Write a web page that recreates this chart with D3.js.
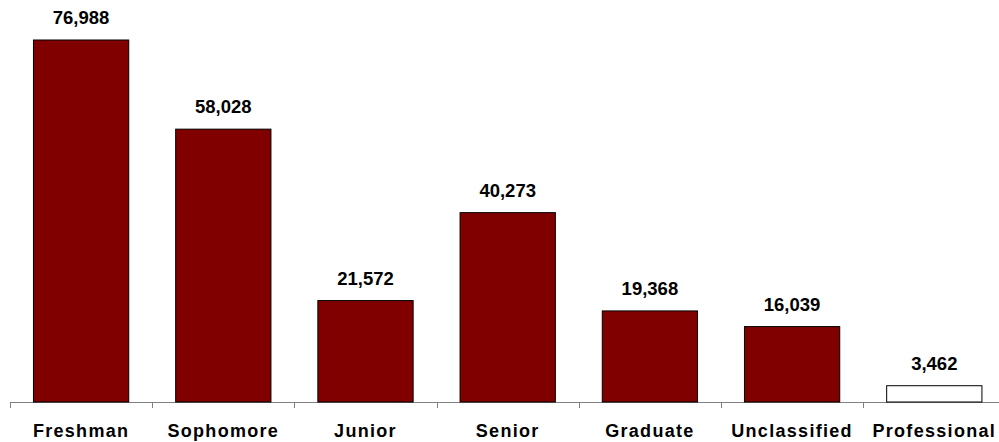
<!DOCTYPE html>
<html><head><meta charset="utf-8">
<script src="https://cdn.jsdelivr.net/npm/d3@7"></script>
<style>body{margin:0;background:#fff;}svg{display:block;}</style>
</head><body>
<svg id="c" width="999" height="442"></svg>
<script>
const categories = ["Freshman","Sophomore","Junior","Senior","Graduate","Unclassified","Professional"];
const values = [76988,58028,21572,40273,19368,16039,3462];
const fills = ["#800000","#800000","#800000","#800000","#800000","#800000","#ffffff"];

const svg = d3.select("#c");
const baseY = 402;
const x = d3.scaleBand().domain(categories).range([10, 10 + 7*142.2]).paddingInner(0.33).paddingOuter(0.165);
const y = d3.scaleLinear().domain([0, 76988]).range([baseY, 40]);

svg.append("line").attr("x1",10).attr("x2",999).attr("y1",baseY+0.5).attr("y2",baseY+0.5)
  .attr("stroke","#808080").attr("stroke-width",1);
const ticks = d3.range(7).map(i => 10 + i*142.2);
svg.selectAll("line.tick").data(ticks).enter().append("line")
  .attr("x1",d=>Math.round(d)+0.5).attr("x2",d=>Math.round(d)+0.5)
  .attr("y1",baseY).attr("y2",baseY+6).attr("stroke","#808080");

svg.selectAll("rect.bar").data(values).enter().append("rect")
  .attr("x",(d,i)=>x(categories[i]))
  .attr("y",d=>y(d))
  .attr("width",x.bandwidth())
  .attr("height",d=>baseY - y(d))
  .attr("fill",(d,i)=>fills[i])
  .attr("stroke","#000").attr("stroke-width",1);

const fmt = d3.format(",");
svg.selectAll("text.val").data(values).enter().append("text")
  .attr("x",(d,i)=>x(categories[i]) + x.bandwidth()/2)
  .attr("y",d=>y(d) - 16)
  .attr("text-anchor","middle")
  .attr("font-family","Liberation Sans, Arial, sans-serif")
  .attr("font-weight","bold").attr("font-size",18.5)
  .attr("fill","#000")
  .text(d=>fmt(d));

svg.selectAll("text.cat").data(categories).enter().append("text")
  .attr("x",d=>x(d) + x.bandwidth()/2)
  .attr("y",437)
  .attr("text-anchor","middle")
  .attr("font-family","Liberation Sans, Arial, sans-serif")
  .attr("font-weight","bold").attr("font-size",18)
  .attr("letter-spacing","1.3px")
  .attr("fill","#000")
  .text(d=>d);
</script>
</body></html>
